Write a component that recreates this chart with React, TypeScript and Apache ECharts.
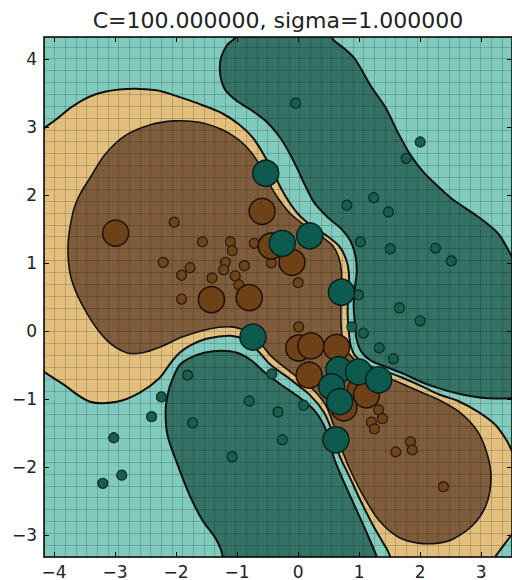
import React, { useEffect, useRef } from "react";
import * as echarts from "echarts";

const TITLE = "C=100.000000, sigma=1.000000";
const X_MIN = -4.163;
const X_MAX = 3.504;
const Y_MIN = -3.324;
const Y_MAX = 4.324;
const X_TICKS = [-4, -3, -2, -1, 0, 1, 2, 3];
const Y_TICKS = [-3, -2, -1, 0, 1, 2, 3, 4];
const MESH = 0.1745;

// decision >= 0 (tan)
const tanRegion: number[][] = [
  [-4.4, -0.34], [-4.4, 2.71], [-3.9, 3.16], [-3.58, 3.37], [-3.25, 3.5], [-2.81, 3.56], [-2.32, 3.54],
  [-1.94, 3.44], [-1.62, 3.34], [-1.26, 3.21], [-0.97, 3.04], [-0.74, 2.84], [-0.56, 2.59], [-0.41, 2.34],
  [-0.28, 2.1], [-0.15, 1.9], [0.01, 1.71], [0.23, 1.54], [0.47, 1.4], [0.67, 1.25], [0.78, 1.07],
  [0.83, 0.87], [0.83, 0.6], [0.81, 0.31], [0.83, 0.01], [0.86, -0.21], [0.94, -0.37], [1.11, -0.49],
  [1.35, -0.57], [1.69, -0.68], [2.02, -0.81], [2.3, -0.93], [2.62, -1.03], [2.95, -1.19], [3.23, -1.38],
  [3.41, -1.6], [3.54, -1.82], [3.7, -2.0], [3.7, -2.75], [3.47, -3.03], [3.23, -3.32], [3.1, -3.5],
  [1.65, -3.5], [1.45, -3.2], [1.24, -2.88], [1.02, -2.49], [0.83, -2.12], [0.71, -1.9], [0.63, -1.72],
  [0.55, -1.46], [0.42, -1.19], [0.19, -0.94], [-0.13, -0.71], [-0.46, -0.49], [-0.66, -0.29],
  [-0.87, -0.13], [-1.11, -0.07], [-1.42, -0.1], [-1.62, -0.15], [-1.78, -0.22], [-1.94, -0.32],
  [-2.08, -0.46], [-2.27, -0.69], [-2.6, -0.91], [-2.97, -1.04], [-3.41, -1.04], [-3.79, -0.82]
];

// decision >= 1 (brown)
const brownRegion: number[][] = [
  [-3.77, 1.24], [-3.69, 1.74], [-3.58, 2.0], [-3.41, 2.25], [-3.17, 2.59], [-2.84, 2.87], [-2.43, 3.03],
  [-2.03, 3.09], [-1.62, 3.07], [-1.24, 2.96], [-0.97, 2.81], [-0.77, 2.63], [-0.61, 2.41], [-0.48, 2.18],
  [-0.31, 1.93], [-0.12, 1.72], [0.13, 1.54], [0.37, 1.4], [0.57, 1.25], [0.67, 1.07], [0.71, 0.87],
  [0.71, 0.6], [0.7, 0.31], [0.71, 0.01], [0.75, -0.21], [0.85, -0.35], [1.02, -0.5], [1.29, -0.62],
  [1.61, -0.74], [2.02, -0.9], [2.3, -1.01], [2.67, -1.21], [2.95, -1.49], [3.11, -1.85], [3.16, -2.19],
  [3.08, -2.56], [2.87, -2.85], [2.54, -3.06], [2.3, -3.12], [1.97, -3.12], [1.64, -3.03], [1.32, -2.78],
  [1.04, -2.38], [0.83, -2.0], [0.75, -1.82], [0.68, -1.66], [0.58, -1.38], [0.45, -1.09], [0.23, -0.85],
  [-0.1, -0.62], [-0.43, -0.38], [-0.62, -0.18], [-0.84, -0.01], [-1.1, 0.06], [-1.46, 0.03],
  [-1.9, -0.09], [-2.27, -0.24], [-2.55, -0.32], [-2.81, -0.32], [-3.14, -0.13], [-3.46, 0.26], [-3.71, 0.75]
];

// decision <= -1 (dark teal), upper right
const tealTopRegion: number[][] = [
  [-0.93, 4.5], [0.42, 4.5], [0.58, 4.28], [0.75, 4.16], [0.94, 3.99], [1.2, 3.59], [1.43, 3.29],
  [1.64, 2.91], [1.84, 2.59], [2.05, 2.34], [2.3, 2.12], [2.54, 1.93], [2.95, 1.68], [3.28, 1.43],
  [3.5, 1.1], [3.7, 0.8], [3.7, -0.99], [3.5, -0.99], [3.11, -0.99], [2.84, -0.96], [2.57, -0.91],
  [2.3, -0.84], [2.02, -0.75], [1.73, -0.63], [1.48, -0.54], [1.2, -0.44], [1.04, -0.31], [0.96, -0.13],
  [0.93, 0.13], [0.91, 0.38], [0.93, 0.63], [0.96, 0.87], [0.94, 1.1], [0.86, 1.32], [0.71, 1.5],
  [0.5, 1.66], [0.27, 1.88], [0.11, 2.15], [-0.02, 2.4], [-0.15, 2.63], [-0.3, 2.85], [-0.51, 3.07],
  [-0.77, 3.25], [-1.03, 3.4], [-1.21, 3.57], [-1.28, 3.81], [-1.26, 4.03], [-1.16, 4.21], [-1.03, 4.31]
];

// decision <= -1 (dark teal), lower left
const tealBottomRegion: number[][] = [
  [-2.03, -0.65], [-1.94, -0.5], [-1.78, -0.4], [-1.54, -0.32], [-1.26, -0.29], [-1.0, -0.32],
  [-0.77, -0.43], [-0.56, -0.6], [-0.28, -0.79], [0.01, -0.97], [0.26, -1.16], [0.42, -1.38],
  [0.52, -1.65], [0.6, -1.9], [0.75, -2.22], [0.94, -2.6], [1.12, -2.96], [1.29, -3.32], [1.37, -3.5],
  [-1.35, -3.5], [-1.24, -3.32], [-1.34, -3.07], [-1.57, -2.78], [-1.78, -2.41], [-1.99, -1.93],
  [-2.14, -1.53], [-2.17, -1.16], [-2.12, -0.87]
];

const brownSmall: number[][] = [
  [-2.03, 1.6], [-1.57, 1.31], [-1.11, 1.31], [-1.08, 1.18], [-0.72, 1.29], [-2.21, 1.01], [-1.77, 0.93],
  [-1.91, 0.82], [-1.41, 0.78], [-1.19, 1.01], [-1.22, 0.9], [-1.03, 0.81], [-0.88, 0.96], [-0.44, 1.0],
  [-0.97, 0.68], [-1.91, 0.47], [0.0, 0.71], [0.01, 0.06], [1.32, -1.16], [1.38, -1.29], [1.2, -1.34],
  [1.25, -1.44], [1.84, -1.63], [1.87, -1.75], [1.6, -1.78], [2.38, -2.29]
];

const tealSmall: number[][] = [
  [-0.04, 3.35], [2.0, 2.78], [1.77, 2.54], [0.8, 1.85], [1.24, 1.96], [1.48, 1.75], [1.02, 1.31],
  [1.51, 1.21], [2.25, 1.22], [2.51, 1.03], [0.99, 0.53], [1.66, 0.34], [2.0, 0.15], [1.07, -0.03],
  [0.88, 0.06], [1.33, -0.25], [1.56, -0.41], [-1.81, -0.65], [-2.24, -0.97], [-2.4, -1.26],
  [-1.73, -1.35], [-3.02, -1.57], [-2.89, -2.12], [-3.2, -2.24], [-0.8, -1.03], [-0.33, -1.19],
  [-0.26, -1.6], [-1.08, -1.85], [0.09, -1.09], [-0.43, -0.63]
];

const brownLarge: number[][] = [
  [-2.99, 1.44], [-0.59, 1.76], [-1.42, 0.46], [-0.8, 0.49], [-0.1, 1.01], [-0.44, 1.25], [0.01, -0.25],
  [0.21, -0.22], [0.63, -0.24], [0.18, -0.65], [1.02, -0.87], [1.12, -0.94], [0.75, -1.13]
];

const tealLarge: number[][] = [
  [-0.53, 2.32], [-0.26, 1.29], [0.19, 1.4], [0.71, 0.57], [-0.74, -0.09], [0.67, -0.57], [0.99, -0.6],
  [1.32, -0.72], [0.55, -0.82], [0.68, -1.04], [0.62, -1.6]
];

const LIGHT_TEAL = "#80cbbd";
const DARK_TEAL = "#337264";
const TAN = "#e3bf7d";
const BROWN = "#7f5d3c";
const FONT = "DejaVu Sans";

const regions = [
  { pts: tanRegion, fill: TAN, width: 2 },
  { pts: brownRegion, fill: BROWN, width: 1.6 },
  { pts: tealTopRegion, fill: DARK_TEAL, width: 2 },
  { pts: tealBottomRegion, fill: DARK_TEAL, width: 2 },
];

const fmt = (v: number) => (v < 0 ? "\u2212" + Math.abs(v) : String(v));

function frameX(position: "top" | "bottom", labels: boolean) {
  return {
    gridIndex: 0, type: "value", position, min: X_MIN, max: X_MAX, z: 10,
    axisLine: { show: true, onZero: false, lineStyle: { color: "#000", width: 1.5 } },
    axisTick: { show: true, inside: true, length: 5, customValues: X_TICKS, lineStyle: { color: "#000", width: 1 } },
    axisLabel: { show: labels, customValues: X_TICKS, formatter: fmt, margin: 6, color: "#222", fontFamily: FONT, fontSize: 17 },
    splitLine: { show: false },
  };
}
function frameY(position: "left" | "right", labels: boolean) {
  return {
    gridIndex: 0, type: "value", position, min: Y_MIN, max: Y_MAX, z: 10,
    axisLine: { show: true, onZero: false, lineStyle: { color: "#000", width: 1.5 } },
    axisTick: { show: true, inside: true, length: 5, customValues: Y_TICKS, lineStyle: { color: "#000", width: 1 } },
    axisLabel: { show: labels, customValues: Y_TICKS, formatter: fmt, margin: 7, color: "#222", fontFamily: FONT, fontSize: 17 },
    splitLine: { show: false },
  };
}

export default function App() {
  const ref = useRef<HTMLDivElement>(null);
  useEffect(() => {
    const chart = echarts.init(ref.current!, null, { renderer: "svg" });
    const gridRect = { left: 44, top: 37, width: 470, height: 520 };
    const meshLine = { show: true, lineStyle: { color: "rgba(0,0,0,0.17)", width: 1 } };
    const option: any = {
      animation: false,
      backgroundColor: "#fff",
      graphic: [
        {
          type: "text", x: 278, y: 20, z: 20,
          style: { text: TITLE, fontFamily: FONT, fontSize: 22, fill: "#222", align: "center", verticalAlign: "middle", textAlign: "center", textVerticalAlign: "middle" },
        },
      ],
      grid: [
        { ...gridRect, show: true, backgroundColor: LIGHT_TEAL, borderWidth: 0 },
        { ...gridRect, show: false },
      ],
      xAxis: [
        frameX("bottom", true),
        frameX("top", false),
        {
          gridIndex: 1, type: "value", min: X_MIN, max: X_MAX, interval: MESH, z: 3,
          axisLine: { show: false }, axisTick: { show: false }, axisLabel: { show: false }, splitLine: meshLine,
        },
      ],
      yAxis: [
        frameY("left", true),
        frameY("right", false),
        {
          gridIndex: 1, type: "value", min: Y_MIN, max: Y_MAX, interval: MESH, z: 3,
          axisLine: { show: false }, axisTick: { show: false }, axisLabel: { show: false }, splitLine: meshLine,
        },
      ],
      series: [
        {
          type: "custom", xAxisIndex: 0, yAxisIndex: 0, clip: true, z: 2, silent: true,
          data: regions.map((_, i) => [0, 0, i]),
          renderItem: (params: any, api: any) => {
            const r = regions[params.dataIndex];
            return {
              type: "polygon",
              shape: { points: r.pts.map((p) => api.coord(p)), smooth: 0.3 },
              style: { fill: r.fill, stroke: "#111", lineWidth: r.width },
            };
          },
        },
        {
          type: "scatter", xAxisIndex: 0, yAxisIndex: 0, data: brownSmall, symbolSize: 10, z: 5, silent: true,
          itemStyle: { color: "#6e4418", borderColor: "#2a1a0a", borderWidth: 1.2, opacity: 1 },
        },
        {
          type: "scatter", xAxisIndex: 0, yAxisIndex: 0, data: tealSmall, symbolSize: 10, z: 5, silent: true,
          itemStyle: { color: "#1a5e52", borderColor: "#0b2a25", borderWidth: 1.2, opacity: 1 },
        },
        {
          type: "scatter", xAxisIndex: 0, yAxisIndex: 0, data: brownLarge, symbolSize: 26, z: 6, silent: true,
          itemStyle: { color: "#6e4216", borderColor: "#1e1206", borderWidth: 1.5, opacity: 1 },
        },
        {
          type: "scatter", xAxisIndex: 0, yAxisIndex: 0, data: tealLarge, symbolSize: 26, z: 7, silent: true,
          itemStyle: { color: "#0f5a4e", borderColor: "#06221d", borderWidth: 1.5, opacity: 1 },
        },
      ],
    };
    chart.setOption(option);
    return () => chart.dispose();
  }, []);
  return (
    <div
      ref={ref}
      style={{ position: "fixed", left: 0, top: 0, width: 512, height: 580, background: "#fff" }}
    />
  );
}
